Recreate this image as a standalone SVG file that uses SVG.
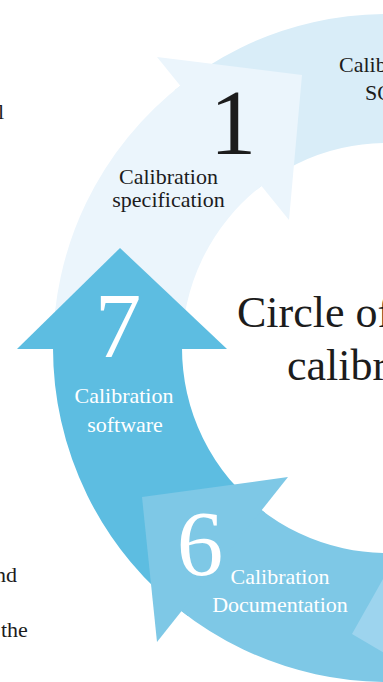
<svg xmlns="http://www.w3.org/2000/svg" width="383" height="682" viewBox="0 0 383 682">
<style>
  .t { font-family: "Liberation Serif", "Times New Roman", serif; }
  .lbl { font-size: 22px; text-anchor: middle; }
  .num { font-size: 93px; text-anchor: middle; }
  .dark { fill: #1c1c1c; }
  .light { fill: #ffffff; }
  .s1 { fill: #EBF5FC; }
  .s2 { fill: #D9EDF8; }
  .s5 { fill: #9DD4EE; }
  .s6 { fill: #7EC8E6; }
  .s7 { fill: #5DBDE1; }
</style>
<rect width="383" height="682" fill="#ffffff"/>

<g id="side-text" class="t dark" font-size="22">
  <text x="4" y="119" text-anchor="end">l</text>
  <text x="17" y="582" text-anchor="end">and</text>
  <text x="1" y="637">the</text>
</g>

<g id="connectors"></g>

<g id="node-2">
  <path class="s2" d="M174.5,90.3 A334,334 0 0 1 467.8,23.9 L436.6,149.1 A205,205 0 0 0 256.6,189.8 Z"/>
  <polygon class="s2" points="470.2,-12.5 544,112.3 423,192.1"/>
  <text class="t lbl dark" x="388.5" y="72">Calibration</text>
  <text class="t dark" font-size="22" x="365" y="100">SOP</text>
</g>

<g id="node-1">
  <path class="s1" d="M53.05,353.8 A334,334 0 0 1 183.7,83 L262.2,185.4 A205,205 0 0 0 182.03,351.6 Z"/>
  <polygon class="s1" points="157,57 302,75 289,220"/>
  <text class="t num dark" x="233" y="154">1</text>
  <text class="t lbl dark" x="168.5" y="184">Calibration</text>
  <text class="t lbl dark" x="168.5" y="207">specification</text>
</g>

<g id="node-7">
  <path class="s7" d="M187.9,616.1 A334,334 0 0 1 53.05,342.2 L182.03,344.4 A205,205 0 0 0 264.8,512.6 Z"/>
  <polygon class="s7" points="17,349 120,248 227,349"/>
  <text class="t num light" x="118" y="357">7</text>
  <text class="t lbl light" x="124" y="403">Calibration</text>
  <text class="t lbl light" x="125" y="432">software</text>
</g>

<g id="node-6">
  <path class="s6" d="M467.2,672.2 A334,334 0 0 1 178.6,609 L259.1,508.2 A205,205 0 0 0 436.2,547 Z"/>
  <polygon class="s6" points="288,477 142,497 157,642"/>
  <text class="t num light" x="200" y="575">6</text>
  <text class="t lbl light" x="280" y="584">Calibration</text>
  <text class="t lbl light" x="280" y="612">Documentation</text>
</g>

<g id="node-5">
  <path class="s5" d="M689.7,489.2 A334,334 0 0 1 461.6,673.6 L432.8,547.8 A205,205 0 0 0 572.8,434.6 Z"/>
  <polygon class="s5" points="426,503 352,634 476,707"/>
</g>

<g id="title" class="t dark" font-size="44">
  <text x="237" y="327">Circle of</text>
  <text x="287" y="380">calibration</text>
</g>
</svg>
